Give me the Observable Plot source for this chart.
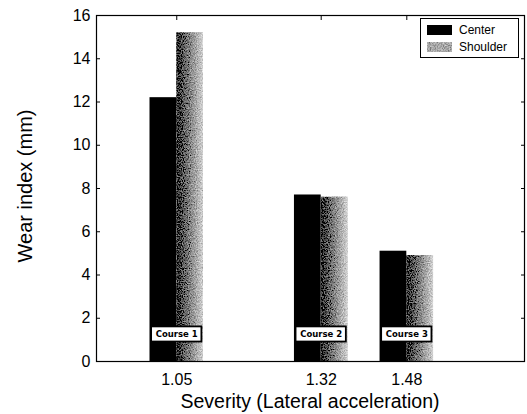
<!DOCTYPE html>
<html>
<head>
<meta charset="utf-8">
<script src="https://cdn.jsdelivr.net/npm/d3@7"></script>
<script src="https://cdn.jsdelivr.net/npm/@observablehq/plot@0.6"></script>
<style>
  html, body { margin: 0; padding: 0; background: #fff; }
  #wrap { position: relative; width: 527px; height: 414px; font-family: "Liberation Sans", Arial, sans-serif; }
  #wrap > svg { position: absolute; left: 0; top: 0; }
  .ylab { position: absolute; left: 25px; top: 186px; transform: translate(-50%, -50%) rotate(-90deg); font-size: 20px; white-space: nowrap; color: #000; }
  .xlab { position: absolute; left: 310px; top: 401px; transform: translate(-50%, -50%); font-size: 19.5px; white-space: nowrap; color: #000; }
  .legend { position: absolute; left: 420px; top: 18px; width: 97px; height: 38px; border: 1px solid #000; background: #fff; font-size: 12px; }
  .legend .row { position: absolute; left: 6px; height: 14px; display: flex; align-items: center; }
  .legend .row svg { display: block; flex: none; }
</style>
</head>
<body>
<div id="wrap"></div>
<script>
// ---- data ----
const severity = [1.05, 1.32, 1.48];
const courses = ["Course 1", "Course 2", "Course 3"];
const center = [12.2, 7.7, 5.1];
const shoulder = [15.2, 7.6, 4.9];
const yTicks = [0, 2, 4, 6, 8, 10, 12, 14, 16];
const xTicks = [1.05, 1.32, 1.48];
const seriesNames = ["Center", "Shoulder"];

const rows = severity.map((s, i) => ({x: s, course: courses[i], center: center[i], shoulder: shoulder[i]}));
const bw = 0.05;

const plot = Plot.plot({
  width: 527,
  height: 414,
  marginLeft: 96,
  marginRight: 3,
  marginTop: 15,
  marginBottom: 53,
  style: {fontFamily: "'Liberation Sans', Arial, sans-serif", fontSize: "16px", color: "#000", background: "transparent"},
  x: {domain: [0.9, 1.7], label: null},
  y: {domain: [0, 16], label: null},
  marks: [
    Plot.rectY(rows, {x1: d => d.x - bw, x2: d => d.x, y1: 0, y2: "center", fill: "#000"}),
    Plot.rectY(rows, {x1: d => d.x, x2: d => d.x + bw, y1: 0, y2: "shoulder", fill: "url(#shg)", className: "shoulder"}),
    Plot.rect(rows, {x1: d => d.x - 0.047, x2: d => d.x + 0.047, y1: 0.9, y2: 1.6, fill: "#fff", stroke: "#000", strokeWidth: 1.8}),
    Plot.text(rows, {x: "x", y: 1.25, text: "course", fontSize: 8.5, fontWeight: "bold", fontFamily: "DejaVu Sans", fill: "#000"}),
    Plot.frame({stroke: "#000", strokeWidth: 1.2}),
    Plot.axisY({ticks: yTicks, tickSize: 0, tickPadding: 6, label: null, fontSize: 16}),
    Plot.axisY({ticks: yTicks, tickSize: 4, dx: 4, fill: "none", label: null, stroke: "#000"}),
    Plot.axisY({anchor: "right", ticks: yTicks, tickSize: 4, dx: -4, fill: "none", label: null, stroke: "#000"}),
    Plot.axisX({ticks: xTicks, tickSize: 0, tickPadding: 12, tickFormat: d3.format(".2f"), label: null, fontSize: 16}),
    Plot.axisX({ticks: xTicks, tickSize: 4, dy: -4, fill: "none", label: null, stroke: "#000"}),
    Plot.axisX({anchor: "top", ticks: xTicks, tickSize: 4, dy: 4, fill: "none", label: null, stroke: "#000"})
  ]
});

// gradient + speckle definitions for the stippled Shoulder bars
const defs = `
<defs>
  <linearGradient id="shg" x1="0" x2="1" y1="0" y2="0">
    <stop offset="0" stop-color="#151515"/>
    <stop offset="0.3" stop-color="#606060"/>
    <stop offset="0.65" stop-color="#9a9a9a"/>
    <stop offset="1" stop-color="#d2d2d2"/>
  </linearGradient>
  <filter id="speckle" x="0" y="0" width="1" height="1">
    <feTurbulence type="fractalNoise" baseFrequency="0.85" numOctaves="2" seed="3" result="noise"/>
    <feColorMatrix in="noise" type="matrix" values="0 0 0 1 0  0 0 0 1 0  0 0 0 1 0  0 0 0 0 1" result="gn"/>
    <feComposite in="SourceGraphic" in2="gn" operator="arithmetic" k1="0" k2="1" k3="0.8" k4="-0.4" result="mix"/>
    <feComposite in="mix" in2="SourceGraphic" operator="in"/>
  </filter>
</defs>`;
plot.insertAdjacentHTML("afterbegin", defs);
plot.querySelectorAll(".shoulder rect").forEach(r => r.setAttribute("filter", "url(#speckle)"));

const wrap = document.getElementById("wrap");
wrap.appendChild(plot);

const ylab = document.createElement("div");
ylab.className = "ylab";
ylab.textContent = "Wear index (mm)";
wrap.appendChild(ylab);

const xlab = document.createElement("div");
xlab.className = "xlab";
xlab.textContent = "Severity (Lateral acceleration)";
wrap.appendChild(xlab);

const legend = document.createElement("div");
legend.className = "legend";
seriesNames.forEach((name, i) => {
  const row = document.createElement("div");
  row.className = "row";
  row.style.top = (4 + i * 17) + "px";
  const sw = document.createElementNS("http://www.w3.org/2000/svg", "svg");
  sw.setAttribute("width", 25); sw.setAttribute("height", 10);
  sw.style.marginRight = "7px";
  const r = document.createElementNS("http://www.w3.org/2000/svg", "rect");
  r.setAttribute("width", 25); r.setAttribute("height", 10);
  if (i === 0) { r.setAttribute("fill", "#000"); }
  else { r.setAttribute("fill", "#a8a8a8"); r.setAttribute("filter", "url(#speckle)"); }
  sw.appendChild(r);
  row.appendChild(sw);
  const t = document.createElement("span");
  t.textContent = name;
  row.appendChild(t);
  legend.appendChild(row);
});
wrap.appendChild(legend);
</script>
</body>
</html>
